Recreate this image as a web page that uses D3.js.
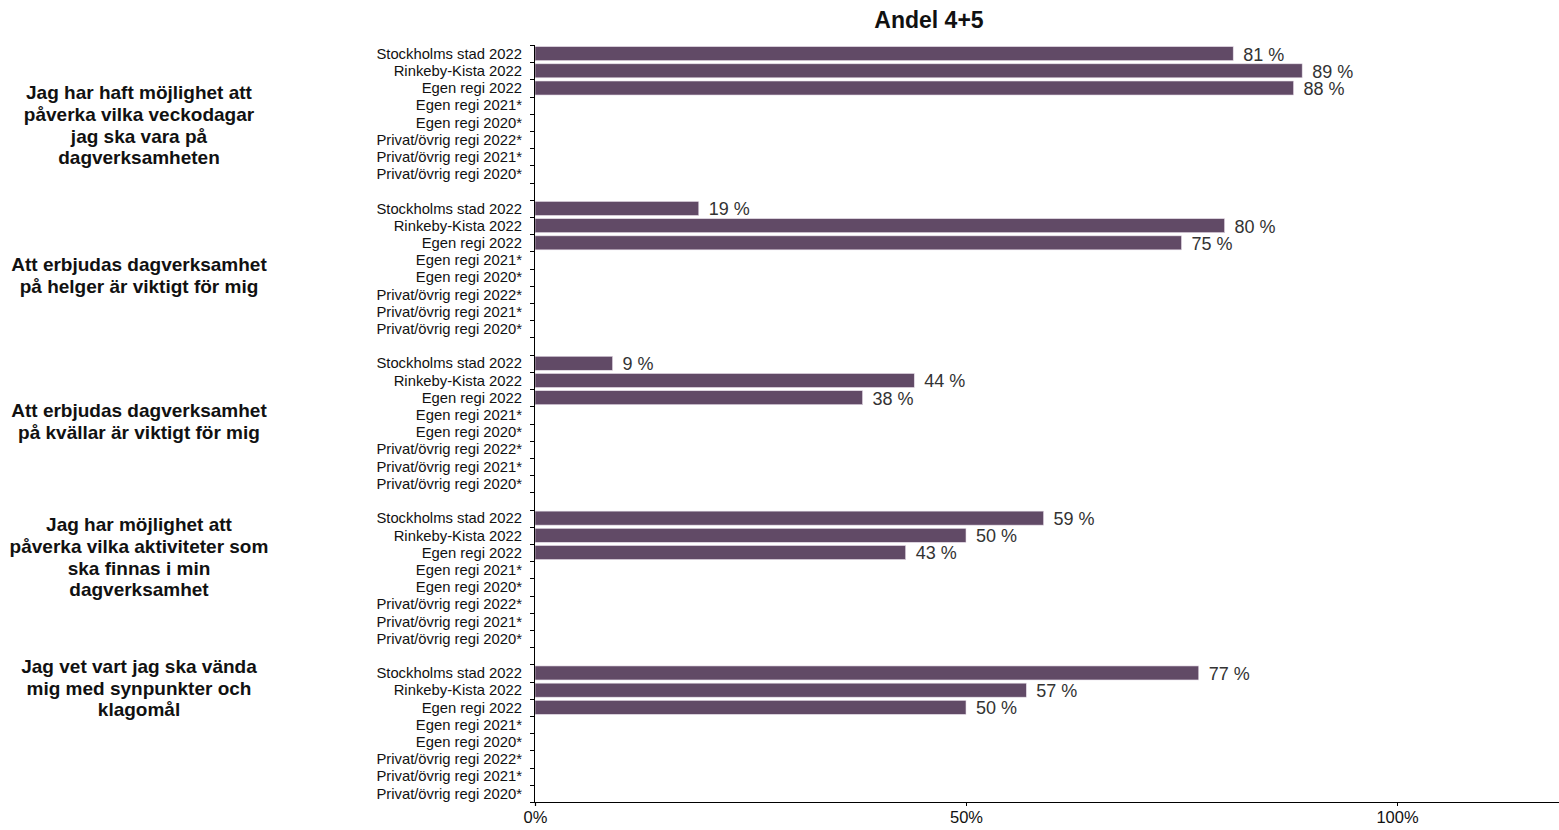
<!DOCTYPE html>
<html><head><meta charset="utf-8">
<script src="https://cdn.jsdelivr.net/npm/d3@7"></script>
<style>
html,body{margin:0;padding:0;background:#fff;}
svg{display:block;font-family:Arial,"Liberation Sans",sans-serif;}
</style></head>
<body>
<svg id="chart" width="1559" height="830"></svg>
<script>
const title = "Andel 4+5";
const questions = [
  ["Jag har haft möjlighet att","påverka vilka veckodagar","jag ska vara på","dagverksamheten"],
  ["Att erbjudas dagverksamhet","på helger är viktigt för mig"],
  ["Att erbjudas dagverksamhet","på kvällar är viktigt för mig"],
  ["Jag har möjlighet att","påverka vilka aktiviteter som","ska finnas i min","dagverksamhet"],
  ["Jag vet vart jag ska vända","mig med synpunkter och","klagomål"]
];
const units = ["Stockholms stad 2022","Rinkeby-Kista 2022","Egen regi 2022","Egen regi 2021*","Egen regi 2020*","Privat/övrig regi 2022*","Privat/övrig regi 2021*","Privat/övrig regi 2020*"];
// values per question, null = no data
const values = [
  [81, 89, 88, null, null, null, null, null],
  [19, 80, 75, null, null, null, null, null],
  [9, 44, 38, null, null, null, null, null],
  [59, 50, 43, null, null, null, null, null],
  [77, 57, 50, null, null, null, null, null]
];
const xTicks = [0, 50, 100];
const xTickLabels = ["0%","50%","100%"];

(function(){
// layout
const groupLabelY = [125, 275, 421, 557, 688];
const barColor = "#614a66";

const svg = d3.select("#chart");
const mLeft = 535, mTop = 45, mBottom = 802;

// build slot list: 8 rows per group plus a blank slot between groups
const slots = [];
values.forEach((g, gi) => {
  if (gi > 0) slots.push({key: "gap" + gi, blank: true});
  units.forEach((u, ui) => slots.push({key: gi + "_" + ui, unit: u, value: g[ui], blank: false}));
});

const y = d3.scaleBand().domain(slots.map(d => d.key)).range([mTop, mBottom]).paddingInner(0).paddingOuter(0);
const x = d3.scaleLinear().domain([0, 120]).range([mLeft, mLeft + 120 * (1397 - 535) / 100]);

const barPad = 1.6;
// bars
svg.append("g").selectAll("rect")
  .data(slots.filter(d => !d.blank && d.value != null))
  .join("rect")
  .attr("x", x(0))
  .attr("y", d => y(d.key) + barPad)
  .attr("width", d => x(d.value) - x(0))
  .attr("height", y.bandwidth() - 2 * barPad)
  .attr("fill", barColor)
  .attr("stroke", "#e6dde8")
  .attr("stroke-width", 0.6);

// value labels
svg.append("g").selectAll("text")
  .data(slots.filter(d => !d.blank && d.value != null))
  .join("text")
  .attr("x", d => x(d.value) + 10)
  .attr("y", d => y(d.key) + y.bandwidth() / 2 + 1)
  .attr("dy", "0.33em")
  .attr("font-size", 18)
  .attr("fill", "#333")
  .text(d => d.value + " %");

// category labels
svg.append("g").selectAll("text")
  .data(slots.filter(d => !d.blank))
  .join("text")
  .attr("x", mLeft - 13)
  .attr("y", d => y(d.key) + y.bandwidth() / 2)
  .attr("dy", "0.35em")
  .attr("text-anchor", "end")
  .attr("font-size", 14.8)
  .attr("fill", "#111")
  .text(d => d.unit);

// y axis line and boundary ticks
const yAxisG = svg.append("g");
yAxisG.append("line").attr("x1", mLeft - 0.5).attr("x2", mLeft - 0.5).attr("y1", mTop).attr("y2", mBottom).attr("stroke", "#000");
const bounds = slots.map(d => y(d.key)).concat([mBottom]);
yAxisG.selectAll("line.t").data(bounds).join("line").attr("class", "t")
  .attr("x1", mLeft - 5).attr("x2", mLeft).attr("y1", d => Math.round(d) + 0.5).attr("y2", d => Math.round(d) + 0.5)
  .attr("stroke", "#000");

// x axis
const xAxis = d3.axisBottom(x).tickValues(xTicks).tickSize(4).tickFormat((d, i) => xTickLabels[i]);
const xg = svg.append("g").attr("transform", `translate(0,${mBottom})`).call(xAxis);
xg.select(".domain").attr("stroke", "#000").attr("stroke-width", 1.2);
xg.selectAll(".tick line").attr("stroke", "#000");
xg.selectAll(".tick text").attr("font-size", 16.5).attr("font-family", "Arial, 'Liberation Sans', sans-serif").attr("fill", "#111").attr("dy", "0.85em");

// group labels
questions.forEach((lines, gi) => {
  const lh = 21.7;
  const t = svg.append("text").attr("text-anchor", "middle").attr("font-size", 19).attr("font-weight", "bold").attr("fill", "#111");
  const y0 = groupLabelY[gi] - (lines.length - 1) * lh / 2;
  lines.forEach((l, li) => t.append("tspan").attr("x", 139).attr("y", y0 + li * lh).attr("dy", "0.35em").text(l));
});

// title
svg.append("text").attr("x", 929).attr("y", 20).attr("dy", "0.35em").attr("text-anchor", "middle")
  .attr("font-size", 23).attr("font-weight", "bold").attr("fill", "#111").text(title);
})();
</script>
</body></html>
